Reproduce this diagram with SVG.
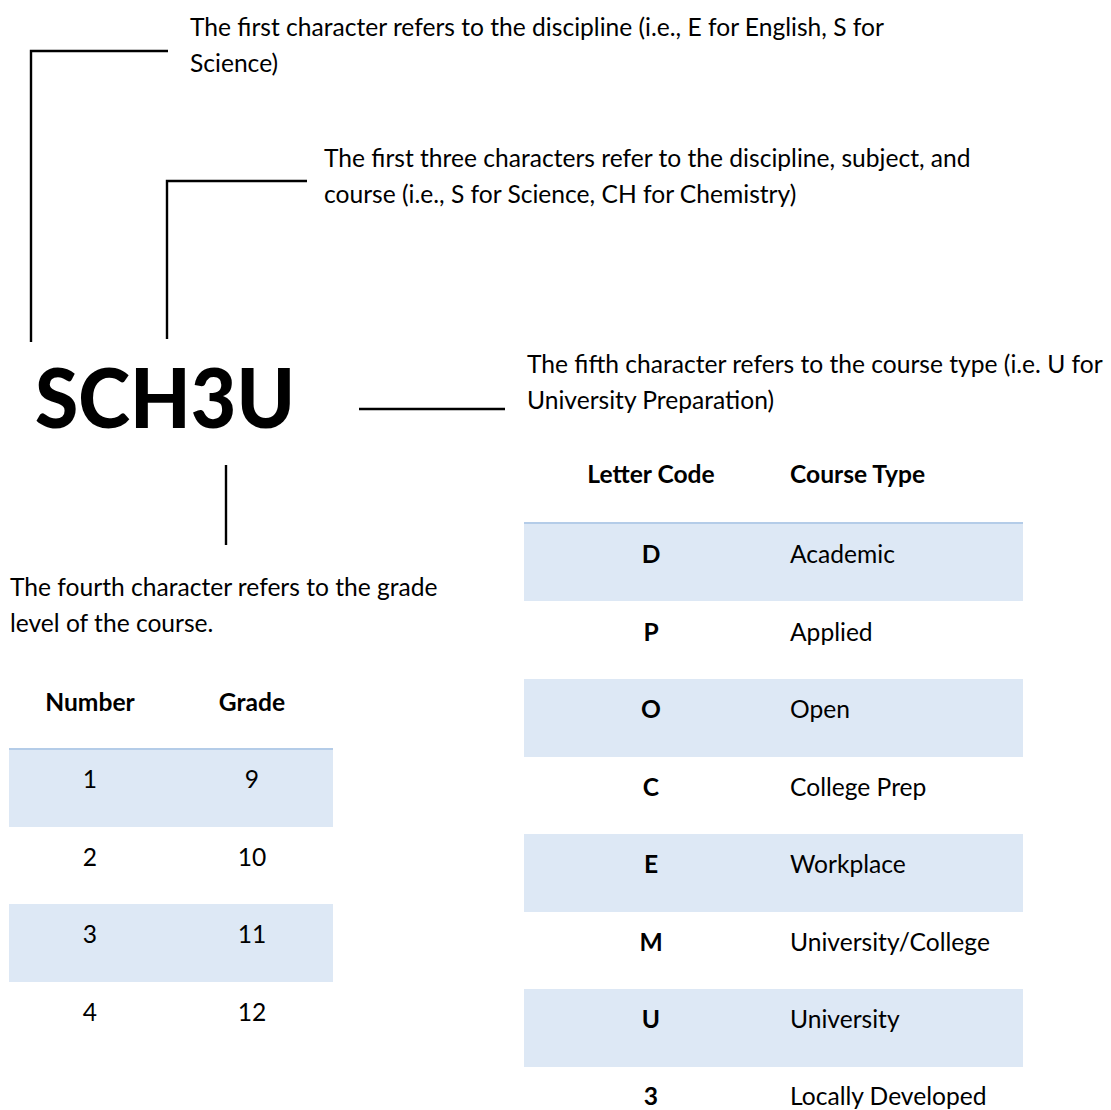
<svg xmlns="http://www.w3.org/2000/svg" width="1111" height="1110" viewBox="0 0 1111 1110">
  <style>
    .t { font-family: Lato, "Open Sans", sans-serif; font-size: 24.6px; fill: #000; }
    .b { font-family: Lato, "Open Sans", sans-serif; font-size: 24.6px; font-weight: bold; fill: #000; }
    .c { text-anchor: middle; }
    .big { font-family: Lato, "Open Sans", sans-serif; font-size: 81px; font-weight: 900; fill: #000; }
    .band { fill: #dde8f5; }
    .edge { stroke: #b4cce8; stroke-width: 2; }
    .ln { stroke: #000; stroke-width: 2.4; fill: none; stroke-linecap: butt; }
  </style>
  <rect width="1111" height="1110" fill="#fff"/>

  <g id="connectors">
    <polyline class="ln" points="168,51 31,51 31,342"/>
    <polyline class="ln" points="307,181 167,181 167,339"/>
    <line class="ln" x1="359" y1="409" x2="505" y2="409"/>
    <line class="ln" x1="226" y1="465" x2="226" y2="545"/>
  </g>

  <g id="code">
    <text class="big" x="35" y="428" textLength="260" lengthAdjust="spacingAndGlyphs">SCH3U</text>
  </g>

  <g id="note-first">
    <text class="t" x="190" y="36">The first character refers to the discipline (i.e., E for English, S for</text>
    <text class="t" x="190" y="72">Science)</text>
  </g>

  <g id="note-three">
    <text class="t" x="324" y="167">The first three characters refer to the discipline, subject, and</text>
    <text class="t" x="324" y="203">course (i.e., S for Science, CH for Chemistry)</text>
  </g>

  <g id="note-fifth">
    <text class="t" x="527" y="373">The fifth character refers to the course type (i.e. U for</text>
    <text class="t" x="527" y="409">University Preparation)</text>
  </g>

  <g id="note-fourth">
    <text class="t" x="10" y="596">The fourth character refers to the grade</text>
    <text class="t" x="10" y="632">level of the course.</text>
  </g>

  <g id="grade-table">
    <rect class="band" x="9" y="749" width="324" height="78"/>
    <rect class="band" x="9" y="904" width="324" height="78"/>
    <line class="edge" x1="9" y1="749" x2="333" y2="749"/>
    <text class="b c" x="90" y="711">Number</text>
    <text class="b c" x="252" y="711">Grade</text>
    <text class="t c" x="90" y="788">1</text>
    <text class="t c" x="252" y="788">9</text>
    <text class="t c" x="90" y="866">2</text>
    <text class="t c" x="252" y="866">10</text>
    <text class="t c" x="90" y="943">3</text>
    <text class="t c" x="252" y="943">11</text>
    <text class="t c" x="90" y="1021">4</text>
    <text class="t c" x="252" y="1021">12</text>
  </g>

  <g id="type-table">
    <rect class="band" x="524" y="523" width="499" height="78"/>
    <rect class="band" x="524" y="679" width="499" height="78"/>
    <rect class="band" x="524" y="834" width="499" height="78"/>
    <rect class="band" x="524" y="989" width="499" height="78"/>
    <line class="edge" x1="524" y1="523" x2="1023" y2="523"/>
    <text class="b c" x="651" y="483">Letter Code</text>
    <text class="b" x="790" y="483">Course Type</text>
    <text class="b c" x="651" y="563">D</text>
    <text class="t" x="790" y="563">Academic</text>
    <text class="b c" x="651" y="641">P</text>
    <text class="t" x="790" y="641">Applied</text>
    <text class="b c" x="651" y="718">O</text>
    <text class="t" x="790" y="718">Open</text>
    <text class="b c" x="651" y="796">C</text>
    <text class="t" x="790" y="796">College Prep</text>
    <text class="b c" x="651" y="873">E</text>
    <text class="t" x="790" y="873">Workplace</text>
    <text class="b c" x="651" y="951">M</text>
    <text class="t" x="790" y="951">University/College</text>
    <text class="b c" x="651" y="1028">U</text>
    <text class="t" x="790" y="1028">University</text>
    <text class="b c" x="651" y="1105">3</text>
    <text class="t" x="790" y="1105">Locally Developed</text>
  </g>
</svg>
